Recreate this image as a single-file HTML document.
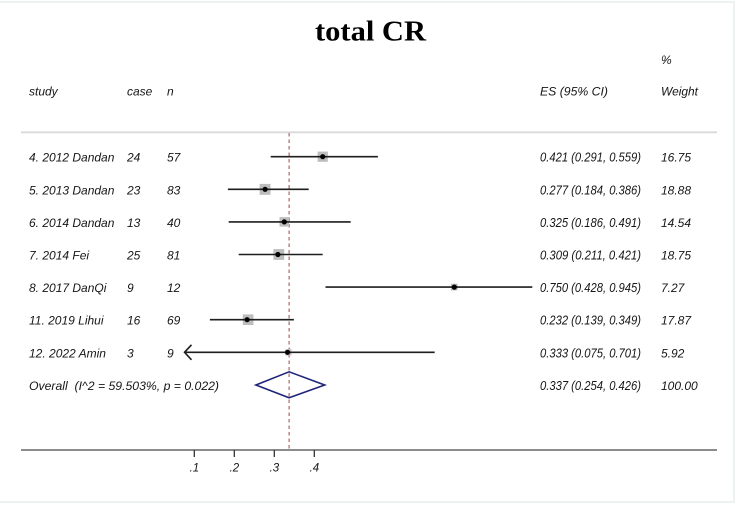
<!DOCTYPE html>
<html>
<head>
<meta charset="utf-8">
<style>
html,body{margin:0;padding:0;background:#fff;}
svg{display:block;}
text{font-family:"Liberation Sans",Arial,sans-serif;font-style:italic;font-size:12px;fill:#161616;}
.t{font-family:"Liberation Serif","Times New Roman",serif;font-style:normal;font-weight:bold;font-size:28px;fill:#000;}
.es{font-size:12.5px;}
.ax{font-style:italic;font-size:11.5px;}
</style>
</head>
<body>
<svg width="749" height="513" viewBox="0 0 749 513" xmlns="http://www.w3.org/2000/svg">
<rect x="0" y="0" width="749" height="513" fill="#fff"/>
<!-- faint frame -->
<path d="M0 2 H734 V502 H0" fill="none" stroke="#ecf2f2" stroke-width="2"/>

<text class="t" x="370.5" y="40.5" text-anchor="middle" textLength="111" lengthAdjust="spacingAndGlyphs">total CR</text>

<!-- headers -->
<text x="661" y="64">%</text>
<text x="29" y="95.5">study</text>
<text x="127" y="95.5">case</text>
<text x="167" y="95.5">n</text>
<text x="540" y="95.5" textLength="68" lengthAdjust="spacingAndGlyphs">ES (95% CI)</text>
<text x="661" y="95.5" textLength="37" lengthAdjust="spacingAndGlyphs">Weight</text>

<line x1="21" y1="132.3" x2="717" y2="132.3" stroke="#d9d9d9" stroke-width="1.8"/>

<!-- reference dashed line -->
<line x1="289.1" y1="133" x2="289.1" y2="450" stroke="#a45a5a" stroke-width="1.1" stroke-dasharray="3.5,3"/>

<!-- rows -->
<g>
<text x="29" y="161.7">4. 2012 Dandan</text><text x="127" y="161.7">24</text><text x="167" y="161.7">57</text>
<text class="es" x="540" y="161.7" textLength="101" lengthAdjust="spacingAndGlyphs">0.421 (0.291, 0.559)</text><text x="661" y="161.7">16.75</text>

<text x="29" y="194.3">5. 2013 Dandan</text><text x="127" y="194.3">23</text><text x="167" y="194.3">83</text>
<text class="es" x="540" y="194.3" textLength="101" lengthAdjust="spacingAndGlyphs">0.277 (0.184, 0.386)</text><text x="661" y="194.3">18.88</text>

<text x="29" y="226.9">6. 2014 Dandan</text><text x="127" y="226.9">13</text><text x="167" y="226.9">40</text>
<text class="es" x="540" y="226.9" textLength="101" lengthAdjust="spacingAndGlyphs">0.325 (0.186, 0.491)</text><text x="661" y="226.9">14.54</text>

<text x="29" y="259.5">7. 2014 Fei</text><text x="127" y="259.5">25</text><text x="167" y="259.5">81</text>
<text class="es" x="540" y="259.5" textLength="101" lengthAdjust="spacingAndGlyphs">0.309 (0.211, 0.421)</text><text x="661" y="259.5">18.75</text>

<text x="29" y="292.1">8. 2017 DanQi</text><text x="127" y="292.1">9</text><text x="167" y="292.1">12</text>
<text class="es" x="540" y="292.1" textLength="101" lengthAdjust="spacingAndGlyphs">0.750 (0.428, 0.945)</text><text x="661" y="292.1">7.27</text>

<text x="29" y="324.7">11. 2019 Lihui</text><text x="127" y="324.7">16</text><text x="167" y="324.7">69</text>
<text class="es" x="540" y="324.7" textLength="101" lengthAdjust="spacingAndGlyphs">0.232 (0.139, 0.349)</text><text x="661" y="324.7">17.87</text>

<text x="29" y="357.3">12. 2022 Amin</text><text x="127" y="357.3">3</text><text x="167" y="357.3">9</text>
<text class="es" x="540" y="357.3" textLength="101" lengthAdjust="spacingAndGlyphs">0.333 (0.075, 0.701)</text><text x="661" y="357.3">5.92</text>

<text x="29" y="389.9" textLength="190" lengthAdjust="spacingAndGlyphs">Overall&#160; (I^2 = 59.503%, p = 0.022)</text>
<text class="es" x="540" y="389.9" textLength="101" lengthAdjust="spacingAndGlyphs">0.337 (0.254, 0.426)</text><text x="661" y="389.9">100.00</text>
</g>

<!-- weight squares -->
<g fill="#bdbdbd">
<rect x="317.6" y="151.6" width="10.2" height="10.2"/>
<rect x="259.6" y="183.9" width="10.9" height="10.9"/>
<rect x="279.5" y="217.1" width="9.5" height="9.5"/>
<rect x="273.4" y="249.1" width="10.8" height="10.8"/>
<rect x="450.9" y="283.7" width="6.7" height="6.7"/>
<rect x="242.8" y="314.4" width="10.6" height="10.6"/>
<rect x="285.4" y="349.3" width="6.1" height="6.1"/>
</g>

<!-- CI lines -->
<g stroke="#1e1e1e" stroke-width="1.6" fill="none">
<line x1="270.7" y1="156.7" x2="377.9" y2="156.7"/>
<line x1="227.9" y1="189.3" x2="308.7" y2="189.3"/>
<line x1="228.7" y1="221.9" x2="350.7" y2="221.9"/>
<line x1="238.7" y1="254.5" x2="322.7" y2="254.5"/>
<line x1="325.5" y1="287.1" x2="532.3" y2="287.1"/>
<line x1="209.9" y1="319.7" x2="293.9" y2="319.7"/>
<line x1="184.5" y1="352.3" x2="434.7" y2="352.3"/>
<polyline points="191.5,344.8 184.5,352.3 191.5,359.8"/>
</g>

<!-- point estimates -->
<g fill="#000">
<circle cx="322.7" cy="156.7" r="2.6"/>
<circle cx="265.1" cy="189.3" r="2.6"/>
<circle cx="284.3" cy="221.9" r="2.6"/>
<circle cx="277.9" cy="254.5" r="2.6"/>
<circle cx="454.3" cy="287.1" r="2.6"/>
<circle cx="247.1" cy="319.7" r="2.6"/>
<circle cx="287.5" cy="352.3" r="2.6"/>
</g>

<!-- overall diamond -->
<polygon points="255.9,385 289.1,371.8 324.7,385 289.1,397.8" fill="none" stroke="#1f2577" stroke-width="1.6"/>

<!-- axis -->
<line x1="21" y1="450" x2="717" y2="450" stroke="#666" stroke-width="1.6"/>
<g stroke="#333" stroke-width="1.3">
<line x1="194.3" y1="450" x2="194.3" y2="457"/>
<line x1="234.3" y1="450" x2="234.3" y2="457"/>
<line x1="274.3" y1="450" x2="274.3" y2="457"/>
<line x1="314.3" y1="450" x2="314.3" y2="457"/>
</g>
<g text-anchor="middle">
<text class="ax" x="194.3" y="471.5">.1</text>
<text class="ax" x="234.3" y="471.5">.2</text>
<text class="ax" x="274.3" y="471.5">.3</text>
<text class="ax" x="314.3" y="471.5">.4</text>
</g>
</svg>
</body>
</html>
